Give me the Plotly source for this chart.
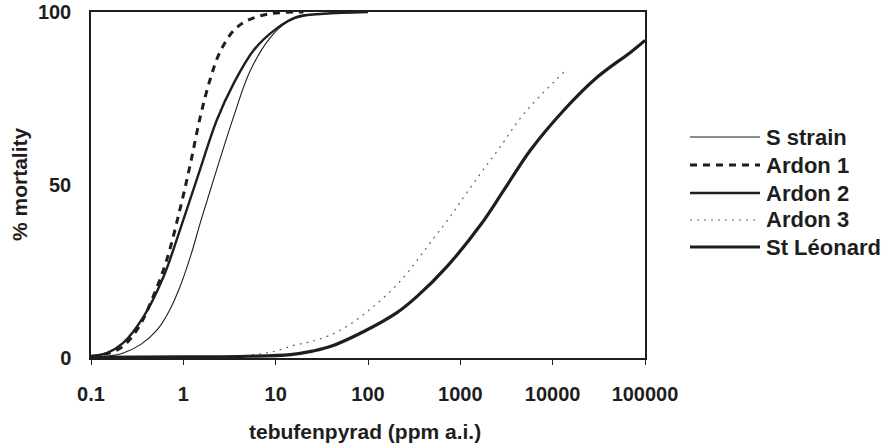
import plotly.graph_objects as go

# ---- data (dose in ppm a.i., % mortality) ----
s_strain_x = [0.1, 0.15, 0.22, 0.35, 0.52, 0.7, 0.92, 1.2, 1.52, 2.04, 3.5, 5.3, 8.7, 13.2, 21.8, 39, 80]
s_strain_y = [0, 0.5, 1.4, 4, 8.1, 13.5, 20.6, 29.5, 38.9, 50, 69.7, 83, 92.5, 97, 99, 99.6, 100]

ardon1_x = [0.1, 0.15, 0.22, 0.33, 0.47, 0.66, 0.92, 1.19, 1.52, 1.95, 2.5, 3.5, 4.9, 8.7, 20]
ardon1_y = [0.5, 1.3, 3.3, 9, 17.7, 28.3, 43, 56, 69.5, 80.5, 88.5, 94.6, 97.5, 99.5, 100]

ardon2_x = [0.1, 0.15, 0.22, 0.37, 0.61, 0.92, 1.51, 2.3, 3.5, 5.75, 10.2, 17, 33, 100]
ardon2_y = [0.5, 1.5, 4.2, 11.9, 23.5, 37, 54.3, 68.7, 79.3, 88.9, 95.2, 98.6, 99.5, 100]

ardon3_x = [0.1, 1, 5, 10, 15, 22, 30, 50, 98, 222, 513, 776, 1000, 1860, 2620, 4880, 13800]
ardon3_y = [0, 0.2, 0.8, 2, 3.5, 4.5, 5.5, 8, 13.4, 22.1, 34.6, 40.8, 45.1, 55.2, 60.5, 70.6, 83.1]

stleonard_x = [0.1, 1, 5, 14.5, 25, 39, 89, 208, 340, 720, 1660, 2960, 5760, 13200, 30500, 70000, 100000]
stleonard_y = [0.2, 0.3, 0.5, 1, 2, 3.3, 7.6, 13.2, 17.8, 26.5, 38.5, 48.5, 60.1, 71.6, 81.2, 88.4, 91.8]

series_names = ["S strain", "Ardon 1", "Ardon 2", "Ardon 3", "St Léonard"]
x_tick_vals = [0.1, 1, 10, 100, 1000, 10000, 100000]
x_tick_text = ["0.1", "1", "10", "100", "1000", "10000", "100000"]
y_tick_vals = [0, 50, 100]
x_title = "tebufenpyrad (ppm a.i.)"
y_title = "% mortality"

# ---- styles ----
INK = "#1e1e1e"
FONT = "Liberation Sans, Arial, sans-serif"
styles = [
    dict(color=INK, width=1.1, dash="solid"),
    dict(color=INK, width=3, dash="7px,6px"),
    dict(color=INK, width=2.4, dash="solid"),
    dict(color="#666666", width=1.2, dash="2px,5px"),
    dict(color=INK, width=3.2, dash="solid"),
]
data = [
    (s_strain_x, s_strain_y),
    (ardon1_x, ardon1_y),
    (ardon2_x, ardon2_y),
    (ardon3_x, ardon3_y),
    (stleonard_x, stleonard_y),
]

W, H = 890, 445
ML, MR, MT, MB = 91, 245, 12, 87
PW, PH = W - ML - MR, H - MT - MB


def px(x):
    return (x - ML) / PW


def py(y):
    return (H - MB - y) / PH


fig = go.Figure()
for name, (xs, ys), st in zip(series_names, data, styles):
    fig.add_trace(go.Scatter(
        x=xs, y=ys, mode="lines", name=name, showlegend=False,
        line=dict(color=st["color"], width=st["width"], dash=st["dash"], shape="spline", smoothing=1.0),
    ))

# manual legend (line samples + labels)
leg_y = [137, 165, 193, 220, 247]
shapes = []
annotations = []
for name, st, yy in zip(series_names, styles, leg_y):
    shapes.append(dict(type="line", xref="paper", yref="paper",
                       x0=px(690), x1=px(760), y0=py(yy), y1=py(yy),
                       line=dict(color=st["color"], width=st["width"], dash=st["dash"])))
    annotations.append(dict(text=name, xref="paper", yref="paper", x=px(764), y=py(yy),
                            xanchor="left", yanchor="middle", showarrow=False,
                            font=dict(family=FONT, size=22, color=INK, weight="bold")))

# axis titles
annotations.append(dict(text=x_title, xref="paper", yref="paper", x=px(365), y=py(431),
                        xanchor="center", yanchor="middle", showarrow=False,
                        font=dict(family=FONT, size=21, color=INK, weight="bold")))
annotations.append(dict(text=y_title, xref="paper", yref="paper", x=px(19), y=py(184),
                        xanchor="center", yanchor="middle", showarrow=False, textangle=-90,
                        font=dict(family=FONT, size=21, color=INK, weight="bold")))

fig.update_layout(
    width=W, height=H,
    margin=dict(l=ML, r=MR, t=MT, b=MB, autoexpand=False),
    paper_bgcolor="white", plot_bgcolor="white",
    showlegend=False,
    shapes=shapes, annotations=annotations,
    xaxis=dict(type="log", range=[-1, 5], tickvals=x_tick_vals, ticktext=x_tick_text,
               automargin=False,
               showgrid=False, zeroline=False, showline=True, mirror=True,
               linecolor=INK, linewidth=1.5, ticks="outside", ticklen=5, tickcolor=INK,
               tickwidth=1, ticklabelstandoff=12,
               tickfont=dict(family=FONT, size=20, color=INK, weight="bold")),
    yaxis=dict(range=[0, 100], tickvals=y_tick_vals, showgrid=False, zeroline=False,
               automargin=False,
               showline=True, mirror=True, linecolor=INK, linewidth=1.5, ticks="",
               ticklabelstandoff=14,
               tickfont=dict(family=FONT, size=20, color=INK, weight="bold")),
)

fig.write_html("out.html")
